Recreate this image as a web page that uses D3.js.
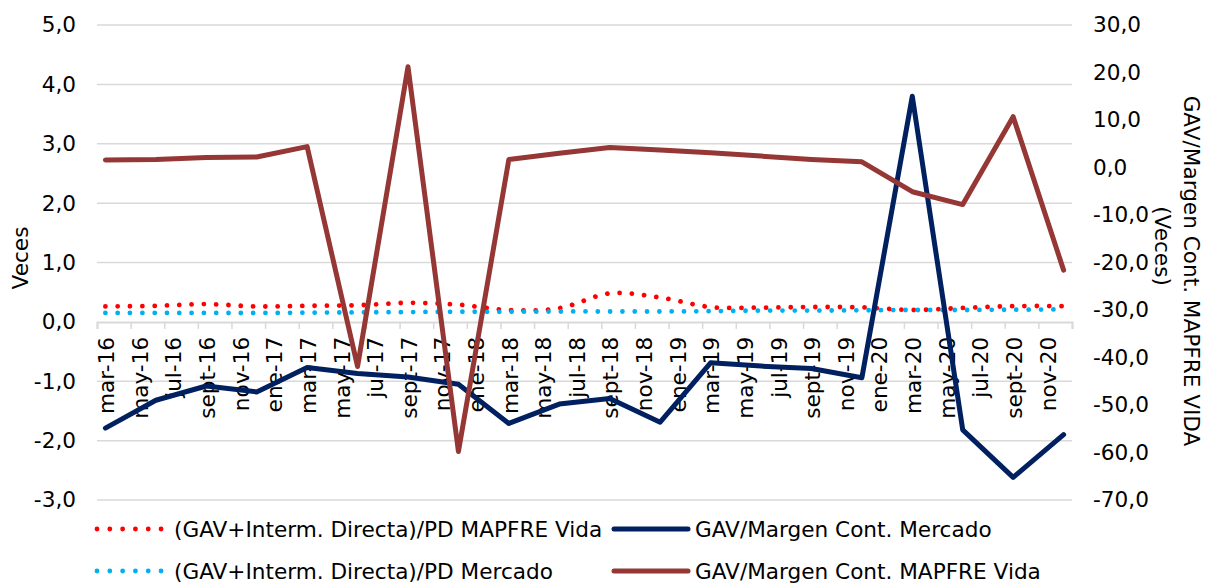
<!DOCTYPE html>
<html>
<head>
<meta charset="utf-8">
<script src="https://cdn.jsdelivr.net/npm/d3@7"></script>
<style>
  body { margin: 0; background: #fff; }
  text { font-family: "DejaVu Sans", Verdana, sans-serif; fill: #000; }
</style>
</head>
<body>
<div id="chart"></div>
<script>
// quarterly points, placed on a monthly date axis (mar-16 .. dic-20)
var quarters = ["mar-16","jun-16","sept-16","dic-16","mar-17","jun-17","sept-17","dic-17",
                "mar-18","jun-18","sept-18","dic-18","mar-19","jun-19","sept-19","dic-19",
                "mar-20","jun-20","sept-20","dic-20"];

var tickLabels = ["mar-16","may-16","jul-16","sept-16","nov-16",
                  "ene-17","mar-17","may-17","jul-17","sept-17","nov-17",
                  "ene-18","mar-18","may-18","jul-18","sept-18","nov-18",
                  "ene-19","mar-19","may-19","jul-19","sept-19","nov-19",
                  "ene-20","mar-20","may-20","jul-20","sept-20","nov-20"];

// left axis
var pdVida    = [0.26,0.27,0.30,0.26,0.27,0.28,0.32,0.29,0.20,0.23,0.48,0.41,0.25,0.24,0.25,0.245,0.20,0.235,0.265,0.265];
var pdMercado = [0.15,0.15,0.15,0.15,0.155,0.16,0.165,0.17,0.17,0.175,0.175,0.175,0.18,0.19,0.19,0.195,0.20,0.20,0.205,0.21];
var margenMercado = [-1.79,-1.32,-1.08,-1.18,-0.77,-0.87,-0.93,-1.05,-1.71,-1.385,-1.29,-1.69,-0.69,-0.745,-0.785,-0.94,3.80,-1.82,-2.62,-1.90];
// right axis
var margenVida = [1.6,1.7,2.1,2.2,4.4,-41.9,21.2,-59.8,1.7,3.0,4.2,3.7,3.1,2.4,1.7,1.2,-5.1,-7.8,10.7,-21.6];

var leftTicks = [-3,-2,-1,0,1,2,3,4,5];
var rightTicks = [-70,-60,-50,-40,-30,-20,-10,0,10,20,30];

var monthNames = ["ene","feb","mar","abr","may","jun","jul","ago","sept","oct","nov","dic"];
var months = [];
for (var yr = 16; yr <= 20; yr++) {
  for (var m = (yr == 16 ? 2 : 0); m < 12; m++) months.push(monthNames[m] + "-" + yr);
}

var W = 1206, H = 584;
var pLeft = 97, pRight = 1072, pTop = 25, pBottom = 500;
var fs = 21.6;

var svg = d3.select("#chart").append("svg")
  .attr("width", W).attr("height", H);

var x = d3.scaleBand().domain(months).range([pLeft, pRight]);
var xc = function(m) { return x(m) + x.bandwidth() / 2; };
var xIdx = d3.scaleLinear().domain([0, months.length]).range([pLeft, pRight]);
var yL = d3.scaleLinear().domain([-3, 5]).range([pBottom, pTop]);
var yR = d3.scaleLinear().domain([-70, 30]).range([pBottom, pTop]);

var fmt = d3.formatLocale({decimal: ",", thousands: ".", grouping: [3], currency: ["", "€"], minus: "-"}).format(".1f");

// gridlines
svg.append("g").selectAll("line")
  .data(leftTicks.filter(function(d) { return d != 0; }))
  .enter().append("line")
  .attr("x1", pLeft).attr("x2", pRight)
  .attr("y1", function(d) { return yL(d); })
  .attr("y2", function(d) { return yL(d); })
  .attr("stroke", "#d9d9d9").attr("stroke-width", 1.5);

// y axes
var axL = svg.append("g").attr("transform", "translate(" + (pLeft - 21) + ",0)")
  .call(d3.axisLeft(yL).tickValues(leftTicks).tickFormat(fmt).tickSize(0));
axL.select(".domain").remove();
axL.selectAll("text").attr("font-size", fs).attr("x", 0).attr("fill", "#000")
  .style("font-family", "DejaVu Sans");

var axR = svg.append("g").attr("transform", "translate(" + (pRight + 21) + ",0)")
  .call(d3.axisRight(yR).tickValues(rightTicks).tickFormat(fmt).tickSize(0));
axR.select(".domain").remove();
axR.selectAll("text").attr("font-size", fs).attr("x", 0).attr("fill", "#000")
  .style("font-family", "DejaVu Sans");

// x axis at 0
var x0 = yL(0);
var axT = svg.append("g").attr("transform", "translate(0," + x0 + ")")
  .call(d3.axisBottom(xIdx).tickValues(d3.range(0, months.length + 1, 2)).tickFormat("").tickSize(7));
axT.select(".domain").attr("stroke", "#d9d9d9").attr("stroke-width", 2);
axT.selectAll(".tick line").attr("stroke", "#d9d9d9").attr("stroke-width", 1.5);

svg.append("g").selectAll("text")
  .data(tickLabels).enter().append("text")
  .attr("transform", function(d) { return "translate(" + (xc(d) + 1) + "," + (x0 + 15) + ") rotate(-90)"; })
  .attr("text-anchor", "end")
  .attr("dy", "0.36em")
  .attr("font-size", fs)
  .text(function(d) { return d; });

// axis titles
svg.append("text")
  .attr("transform", "translate(20,258) rotate(-90)")
  .attr("text-anchor", "middle").attr("dy", "0.36em")
  .attr("font-size", fs).text("Veces");
svg.append("text")
  .attr("transform", "translate(1192,271) rotate(90)")
  .attr("text-anchor", "middle").attr("dy", "0.36em")
  .attr("font-size", fs).text("GAV/Margen Cont. MAPFRE VIDA");
svg.append("text")
  .attr("transform", "translate(1163,246) rotate(90)")
  .attr("text-anchor", "middle").attr("dy", "0.36em")
  .attr("font-size", fs).text("(Veces)");

// series
var smoothL = d3.line()
  .x(function(d, i) { return xc(quarters[i]); })
  .y(function(d) { return yL(d); })
  .curve(d3.curveCardinal);
var lineL = d3.line()
  .x(function(d, i) { return xc(quarters[i]); })
  .y(function(d) { return yL(d); });
var lineR = d3.line()
  .x(function(d, i) { return xc(quarters[i]); })
  .y(function(d) { return yR(d); });

var dots = "0.01 12.3";

svg.append("path").datum(pdVida).attr("d", smoothL)
  .attr("fill", "none").attr("stroke", "#ff0000").attr("stroke-width", 4.8)
  .attr("stroke-linecap", "round").attr("stroke-dasharray", dots);
svg.append("path").datum(pdMercado).attr("d", smoothL)
  .attr("fill", "none").attr("stroke", "#00b0f0").attr("stroke-width", 4.8)
  .attr("stroke-linecap", "round").attr("stroke-dasharray", dots);
svg.append("path").datum(margenMercado).attr("d", lineL)
  .attr("fill", "none").attr("stroke", "#002060").attr("stroke-width", 5)
  .attr("stroke-linecap", "round").attr("stroke-linejoin", "round");
svg.append("path").datum(margenVida).attr("d", lineR)
  .attr("fill", "none").attr("stroke", "#953735").attr("stroke-width", 5)
  .attr("stroke-linecap", "round").attr("stroke-linejoin", "round");

// legend
var legend = [
  {name: "(GAV+Interm. Directa)/PD MAPFRE Vida", color: "#ff0000", dotted: true, x: 97, y: 529},
  {name: "GAV/Margen Cont. Mercado", color: "#002060", dotted: false, x: 614, y: 529},
  {name: "(GAV+Interm. Directa)/PD Mercado", color: "#00b0f0", dotted: true, x: 97, y: 571},
  {name: "GAV/Margen Cont. MAPFRE Vida", color: "#953735", dotted: false, x: 614, y: 571}
];
var lg = svg.append("g").selectAll("g").data(legend).enter().append("g");
lg.append("line")
  .attr("x1", function(d) { return d.x; })
  .attr("x2", function(d) { return d.x + (d.dotted ? 66 : 74); })
  .attr("y1", function(d) { return d.y; }).attr("y2", function(d) { return d.y; })
  .attr("stroke", function(d) { return d.color; })
  .attr("stroke-width", function(d) { return d.dotted ? 4.8 : 5; })
  .attr("stroke-linecap", "round")
  .attr("stroke-dasharray", function(d) { return d.dotted ? "0.01 12.8" : null; });
lg.append("text")
  .attr("x", function(d) { return d.x + (d.dotted ? 77 : 81); })
  .attr("y", function(d) { return d.y; })
  .attr("dy", "0.36em").attr("font-size", fs)
  .text(function(d) { return d.name; });
</script>
</body>
</html>
